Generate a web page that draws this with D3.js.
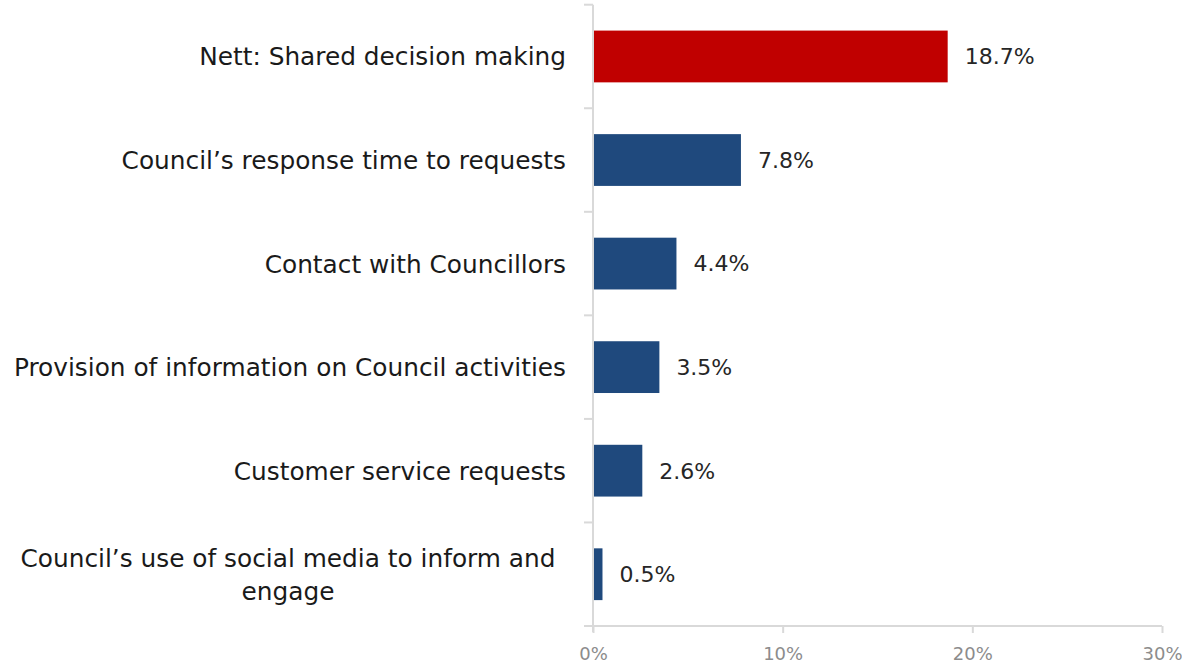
<!DOCTYPE html>
<html>
<head>
<meta charset="utf-8">
<script src="https://cdn.jsdelivr.net/npm/d3@7"></script>
<style>
  html, body { margin: 0; padding: 0; background: #ffffff; }
  svg { display: block; }
</style>
</head>
<body>
<svg id="chart" width="1182" height="666"></svg>
<script>
// Share of mentions per council engagement topic (%)
const categories = [
  "Nett: Shared decision making",
  "Council\u2019s response time to requests",
  "Contact with Councillors",
  "Provision of information on Council activities",
  "Customer service requests",
  "Council\u2019s use of social media to inform and engage"
];
const values = [18.7, 7.8, 4.4, 3.5, 2.6, 0.5];
const highlighted = [true, false, false, false, false, false];
const xTicks = [0, 10, 20, 30];

const labelLines = {
  "Council\u2019s use of social media to inform and engage": ["Council\u2019s use of social media to inform and", "engage"]
};

const svg = d3.select("#chart");
const margin = { top: 4.7, left: 593 };
const plotBottom = 626;

const x = d3.scaleLinear().domain([0, 30]).range([margin.left, 1162]);
const y = d3.scaleBand().domain(categories).range([margin.top, plotBottom]).paddingInner(0.5).paddingOuter(0.25);

const axisColor = "#d9d9d9";
const labelFont = "'DejaVu Sans', sans-serif";

// Bars
svg.append("g").selectAll("rect")
  .data(categories)
  .join("rect")
  .attr("x", x(0))
  .attr("y", d => y(d))
  .attr("width", (d, i) => x(values[i]) - x(0))
  .attr("height", y.bandwidth())
  .attr("fill", (d, i) => highlighted[i] ? "#c00000" : "#1f497d");

// Value labels
svg.append("g").selectAll("text")
  .data(categories)
  .join("text")
  .attr("x", (d, i) => x(values[i]) + 17)
  .attr("y", d => y(d) + y.bandwidth() / 2)
  .attr("dy", "0.36em")
  .attr("font-family", labelFont)
  .attr("font-size", 22)
  .attr("fill", "#262626")
  .text((d, i) => values[i].toFixed(1) + "%");

// Vertical category axis with ticks at band boundaries
const step = y.step();
const yAxis = svg.append("g");
yAxis.append("line")
  .attr("x1", x(0)).attr("x2", x(0))
  .attr("y1", margin.top).attr("y2", plotBottom + 6)
  .attr("stroke", axisColor).attr("stroke-width", 2);
const bounds = d3.range(categories.length).map(i => margin.top + i * step);
yAxis.selectAll("line.tick")
  .data(bounds)
  .join("line")
  .attr("class", "tick")
  .attr("x1", x(0) - 9).attr("x2", x(0))
  .attr("y1", d => d).attr("y2", d => d)
  .attr("stroke", axisColor).attr("stroke-width", 2);

// Category labels
const catG = svg.append("g");
categories.forEach(c => {
  const lines = labelLines[c] || [c];
  const cy = y(c) + y.bandwidth() / 2;
  const lh = 33;
  const t = catG.append("text")
    .attr("font-family", labelFont)
    .attr("font-size", 24.8)
    .attr("fill", "#1a1a1a");
  if (lines.length === 1) {
    t.attr("text-anchor", "end").attr("x", 566).attr("y", cy).attr("dy", "0.36em").text(c);
  } else {
    t.attr("text-anchor", "middle");
    lines.forEach((ln, k) => {
      t.append("tspan")
        .attr("x", 288)
        .attr("y", cy + (k - (lines.length - 1) / 2) * lh)
        .attr("dy", "0.36em")
        .text(ln);
    });
  }
});

// Horizontal value axis
const xAxis = d3.axisBottom(x)
  .tickValues(xTicks)
  .tickFormat(d => d + "%")
  .tickSize(7)
  .tickSizeOuter(0)
  .tickPadding(14);
const xg = svg.append("g").attr("transform", `translate(0,${plotBottom})`).call(xAxis);
xg.select(".domain").remove();
xg.append("line")
  .attr("x1", x(0) - 9).attr("x2", x(30))
  .attr("y1", 0).attr("y2", 0)
  .attr("stroke", axisColor).attr("stroke-width", 2);
xg.selectAll(".tick line").attr("stroke", axisColor).attr("stroke-width", 2);
xg.selectAll(".tick text")
  .attr("font-family", labelFont)
  .attr("font-size", 18)
  .attr("fill", "#8c8c8c");
</script>
</body>
</html>
